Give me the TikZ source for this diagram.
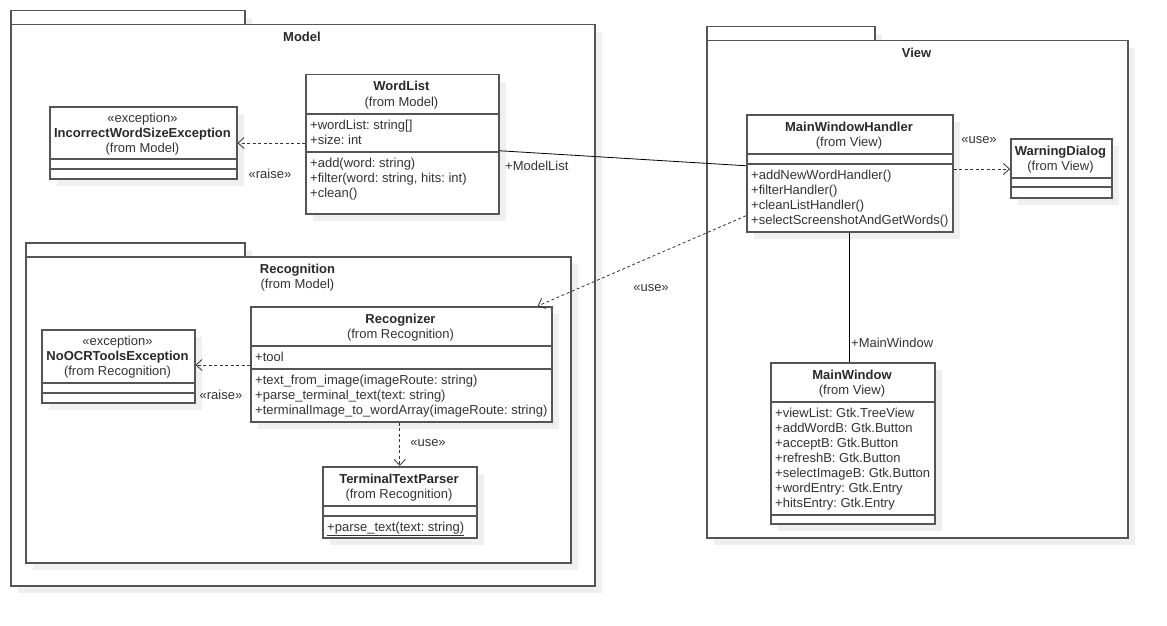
\documentclass[tikz,border=0pt]{standalone}
\usepackage{fontspec}
\setmainfont{Liberation Sans}
\usetikzlibrary{arrows.meta,shadows}
\definecolor{bordc}{HTML}{555555}
\definecolor{txtc}{HTML}{333333}
\definecolor{shadc}{HTML}{EFEFEF}
\tikzset{
  shad/.style={drop shadow={shadow xshift=7pt,shadow yshift=-7pt,fill=shadc,opacity=1}},
  box/.style={draw=bordc, line width=1.5pt, fill=white, shad, inner sep=0pt, anchor=north west},
  cline/.style={draw=bordc, line width=1.5pt},
  txt/.style={font=\fontsize{13}{15}\selectfont\frenchspacing, text=txtc, inner sep=0pt},
  btxt/.style={font=\fontsize{13}{15}\selectfont\bfseries, text=txtc!80!black, inner sep=0pt},
  dep/.style={draw=txtc, line width=0.8pt, dash pattern=on 3pt off 2.5pt, -{Straight Barb[length=6pt,width=11pt]}},
  assoc/.style={draw=black, line width=0.8pt},
}
\newcommand\umllines[4]{\foreach \t [count=\i] in {#4}{\node[txt, anchor=base west] (#1-\i) at (#2,{#3+15*(\i-1)}) {\t};}}
\newcommand\hsep[2]{\draw[cline] (#1.west |- 0,#2) -- (#1.east |- 0,#2);}
\begin{document}
\begin{tikzpicture}[x=1pt,y=-1pt]
\useasboundingbox (0,0) rectangle (1167,626);
% ---------------- Model package
\node[box, minimum width=234pt, minimum height=14pt] (modeltab) at (10,10) {};
\node[box, minimum width=584pt, minimum height=561pt] (model) at (10,24) {};
\node[btxt, anchor=base] (modeltitle) at (302,41.5) {Model};
% Recognition package
\node[box, minimum width=219pt, minimum height=14pt] (rectab) at (25,242) {};
\node[box, minimum width=545pt, minimum height=306pt] (recpkg) at (25,256) {};
\node[btxt, anchor=base] (rectitle) at (297.5,273.5) {Recognition};
\node[txt, anchor=base] (recfrom) at (297.5,288.5) {(from Model)};
% ---------------- View package
\node[box, minimum width=168pt, minimum height=14pt] (viewtab) at (706,26) {};
\node[box, minimum width=421pt, minimum height=497pt] (view) at (706,40) {};
\node[btxt, anchor=base] (viewtitle) at (916.5,58) {View};

% ---------------- IncorrectWordSizeException
\node[box, minimum width=187pt, minimum height=72pt] (iwse) at (49,106) {};
\node[txt, anchor=base] (iwse-st) at (142.5,122) {«exception»};
\node[btxt, anchor=base] (iwse-n) at (142.5,137) {IncorrectWordSizeException};
\node[txt, anchor=base] (iwse-f) at (142.5,152) {(from Model)};
\hsep{iwse}{159}
\hsep{iwse}{169}

% ---------------- WordList
\node[box, minimum width=193pt, minimum height=139pt] (wl) at (305,74) {};
\node[btxt, anchor=base] (wl-n) at (401.5,91) {WordList};
\node[txt, anchor=base] (wl-f) at (401.5,106) {(from Model)};
\hsep{wl}{114}
\hsep{wl}{152}
\umllines{wla}{310}{129.5}{{+wordList: string[]},{+size: int}}
\umllines{wlo}{310}{167.5}{{+add(word: string)},{+filter(word: string, hits: int)},{+clean()}}

% ---------------- Recognizer
\node[box, minimum width=301pt, minimum height=115pt] (rec) at (250,306) {};
\node[btxt, anchor=base] (rec-n) at (400.5,323) {Recognizer};
\node[txt, anchor=base] (rec-f) at (400.5,338) {(from Recognition)};
\hsep{rec}{346}
\hsep{rec}{369}
\umllines{reca}{255}{361.5}{{+tool}}
\umllines{reco}{255}{384.5}{{+text\_from\_image(imageRoute: string)},{+parse\_terminal\_text(text: string)},{+terminalImage\_to\_wordArray(imageRoute: string)}}

% ---------------- NoOCRToolsException
\node[box, minimum width=153pt, minimum height=73pt] (noocr) at (41,329) {};
\node[txt, anchor=base] (noocr-st) at (117.5,345) {«exception»};
\node[btxt, anchor=base] (noocr-n) at (117.5,360) {NoOCRToolsException};
\node[txt, anchor=base] (noocr-f) at (117.5,375) {(from Recognition)};
\hsep{noocr}{383}
\hsep{noocr}{393}

% ---------------- TerminalTextParser
\node[box, minimum width=154pt, minimum height=71pt] (ttp) at (322,466) {};
\node[btxt, anchor=base] (ttp-n) at (399,483) {TerminalTextParser};
\node[txt, anchor=base] (ttp-f) at (399,498) {(from Recognition)};
\hsep{ttp}{506}
\hsep{ttp}{516}
\node[txt, anchor=base west] (ttp-o) at (327,531) {\underline{+parse\_text(text: string)}};

% ---------------- MainWindowHandler
\node[box, minimum width=206pt, minimum height=117pt] (mwh) at (746,114) {};
\node[btxt, anchor=base] (mwh-n) at (849,131) {MainWindowHandler};
\node[txt, anchor=base] (mwh-f) at (849,146) {(from View)};
\hsep{mwh}{154}
\hsep{mwh}{164}
\umllines{mwho}{751}{179}{{+addNewWordHandler()},{+filterHandler()},{+cleanListHandler()},{+selectScreenshotAndGetWords()}}

% ---------------- WarningDialog
\node[box, minimum width=101pt, minimum height=59pt] (wd) at (1010,138) {};
\node[btxt, anchor=base] (wd-n) at (1060.5,155.5) {WarningDialog};
\node[txt, anchor=base] (wd-f) at (1060.5,170.5) {(from View)};
\hsep{wd}{178}
\hsep{wd}{187}

% ---------------- MainWindow
\node[box, minimum width=164pt, minimum height=161pt] (mw) at (770,362) {};
\node[btxt, anchor=base] (mw-n) at (852,379) {MainWindow};
\node[txt, anchor=base] (mw-f) at (852,394) {(from View)};
\hsep{mw}{402}
\umllines{mwa}{775}{417}{{+viewList: Gtk.TreeView},{+addWordB: Gtk.Button},{+acceptB: Gtk.Button},{+refreshB: Gtk.Button},{+selectImageB: Gtk.Button},{+wordEntry: Gtk.Entry},{+hitsEntry: Gtk.Entry}}
\hsep{mw}{515}

% ---------------- connectors
\draw[dep] (wl.west |- 0,143) -- (iwse.east |- 0,143);
\node[txt, anchor=base] (lraise1) at (270,178) {«raise»};

\draw[assoc] ([yshift=-6.5pt]wl.east) -- ([yshift=7.5pt]mwh.west);
\node[txt, anchor=base west] (lmodellist) at (505,170) {+ModelList};

\draw[dep] (mwh.east |- 0,169) -- (wd.west |- 0,169);
\node[txt, anchor=base] (luse1) at (979,143) {«use»};

\draw[dep] ([yshift=-42.5pt]mwh.west) -- ([xshift=136.5pt]rec.north);
\node[txt, anchor=base] (luse2) at (651,291) {«use»};

\draw[assoc] (mwh.south) -- (mwh.south |- mw.north);
\node[txt, anchor=base west] (lmainwindow) at (851,347.5) {+MainWindow};

\draw[dep] (rec.west |- 0,365) -- (noocr.east |- 0,365);
\node[txt, anchor=base] (lraise2) at (221,399) {«raise»};

\draw[dep] (ttp.north |- rec.south) -- (ttp.north);
\node[txt, anchor=base] (luse3) at (428,446) {«use»};
\end{tikzpicture}
\end{document}
